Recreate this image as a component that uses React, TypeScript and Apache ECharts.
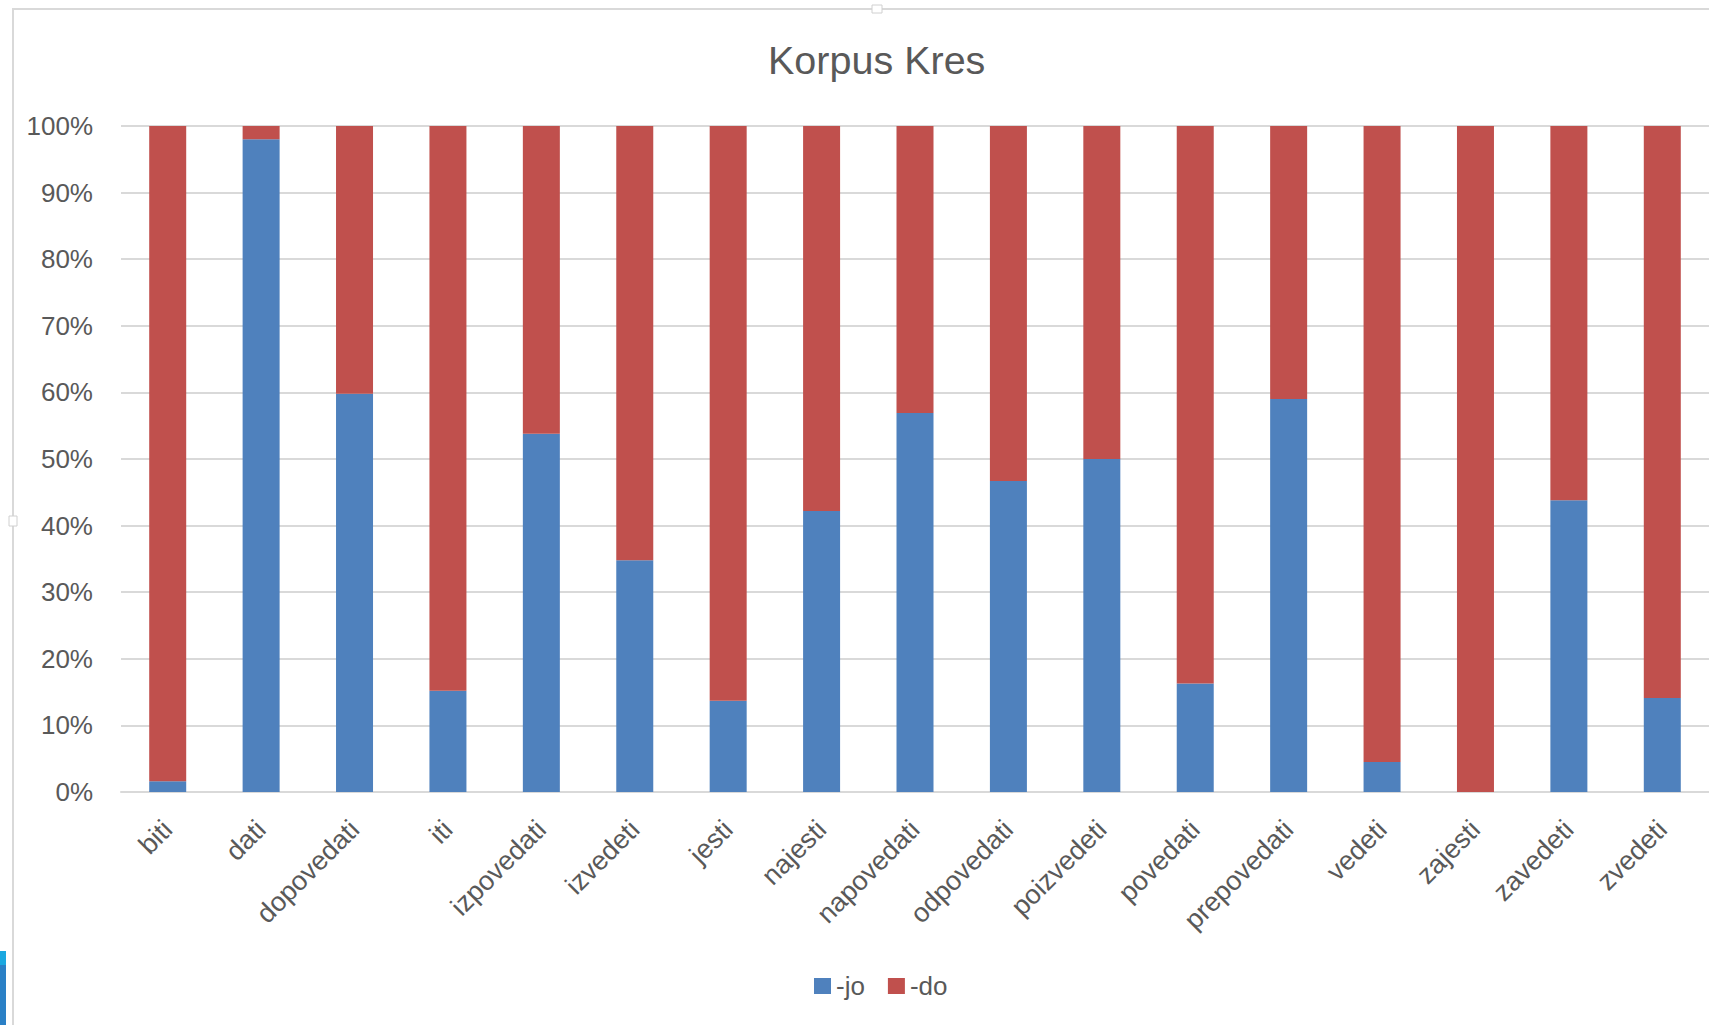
import React, { useEffect, useRef } from "react";
import * as echarts from "echarts";

const categories = [
  "biti", "dati", "dopovedati", "iti", "izpovedati", "izvedeti", "jesti",
  "najesti", "napovedati", "odpovedati", "poizvedeti", "povedati",
  "prepovedati", "vedeti", "zajesti", "zavedeti", "zvedeti",
];
const joValues = [1.6, 98, 59.8, 15.2, 53.8, 34.8, 13.7, 42.2, 56.9, 46.7, 50, 16.3, 59, 4.5, 0, 43.8, 14.1];
const doValues = [98.4, 2, 40.2, 84.8, 46.2, 65.2, 86.3, 57.8, 43.1, 53.3, 50, 83.7, 41, 95.5, 100, 56.2, 85.9];
const yTicks = [0, 10, 20, 30, 40, 50, 60, 70, 80, 90, 100];
const seriesNames = ["-jo", "-do"];
const titleText = "Korpus Kres";

const FONT = "'Liberation Sans', Arial, sans-serif";
const TXT = "#595959";

export default function App() {
  const ref = useRef<HTMLDivElement>(null);
  useEffect(() => {
    document.body.style.margin = "0";
    const chart = echarts.init(ref.current!, null, { renderer: "svg" });
    chart.setOption({
      animation: false,
      backgroundColor: "#ffffff",
      title: {
        text: titleText,
        left: 768,
        top: 40,
        padding: 0,
        textStyle: { fontFamily: FONT, fontSize: 39.5, fontWeight: "normal", color: TXT },
      },
      legend: {
        data: seriesNames,
        left: 814,
        top: 973,
        padding: 0,
        itemWidth: 17,
        itemHeight: 16,
        itemGap: 23,
        icon: "rect",
        textStyle: { fontFamily: FONT, fontSize: 26, color: TXT },
      },
      grid: { left: 121, right: 0, top: 126, bottom: 233, containLabel: false },
      xAxis: {
        type: "category",
        data: categories,
        axisLine: { lineStyle: { color: "#d9d9d9", width: 2 } },
        axisTick: { show: false },
        axisLabel: {
          interval: 0,
          rotate: 45,
          margin: 33,
          fontFamily: FONT,
          fontSize: 27,
          color: TXT,
        },
      },
      yAxis: {
        type: "value",
        min: yTicks[0],
        max: yTicks[yTicks.length - 1],
        interval: 10,
        axisLine: { show: false },
        axisTick: { show: false },
        splitLine: { lineStyle: { color: "#d9d9d9", width: 2 } },
        axisLabel: {
          margin: 28,
          formatter: "{value}%",
          fontFamily: FONT,
          fontSize: 26,
          color: TXT,
        },
      },
      series: [
        {
          name: seriesNames[0],
          type: "bar",
          stack: "total",
          barWidth: 37,
          data: joValues,
          itemStyle: { color: "#4f81bd" },
        },
        {
          name: seriesNames[1],
          type: "bar",
          stack: "total",
          barWidth: 37,
          data: doValues,
          itemStyle: { color: "#c0504d" },
        },
      ],
      graphic: [
        {
          type: "rect",
          silent: true,
          shape: { x: 13, y: 9, width: 1800, height: 1100 },
          style: { fill: "none", stroke: "#d9d9d9", lineWidth: 2 },
        },
        {
          type: "rect",
          silent: true,
          shape: { x: 872, y: 5, width: 10, height: 8 },
          style: { fill: "#ffffff", stroke: "#d0d0d0", lineWidth: 1 },
        },
        {
          type: "rect",
          silent: true,
          shape: { x: 9, y: 516, width: 8, height: 10 },
          style: { fill: "#ffffff", stroke: "#d0d0d0", lineWidth: 1 },
        },
        {
          type: "rect",
          silent: true,
          shape: { x: 0, y: 951, width: 6, height: 14 },
          style: { fill: "#1ba8e0" },
        },
        {
          type: "rect",
          silent: true,
          shape: { x: 0, y: 965, width: 6, height: 60 },
          style: { fill: "#2a80c6" },
        },
      ],
    });
    return () => chart.dispose();
  }, []);
  return <div ref={ref} style={{ width: 1709, height: 1025 }} />;
}
